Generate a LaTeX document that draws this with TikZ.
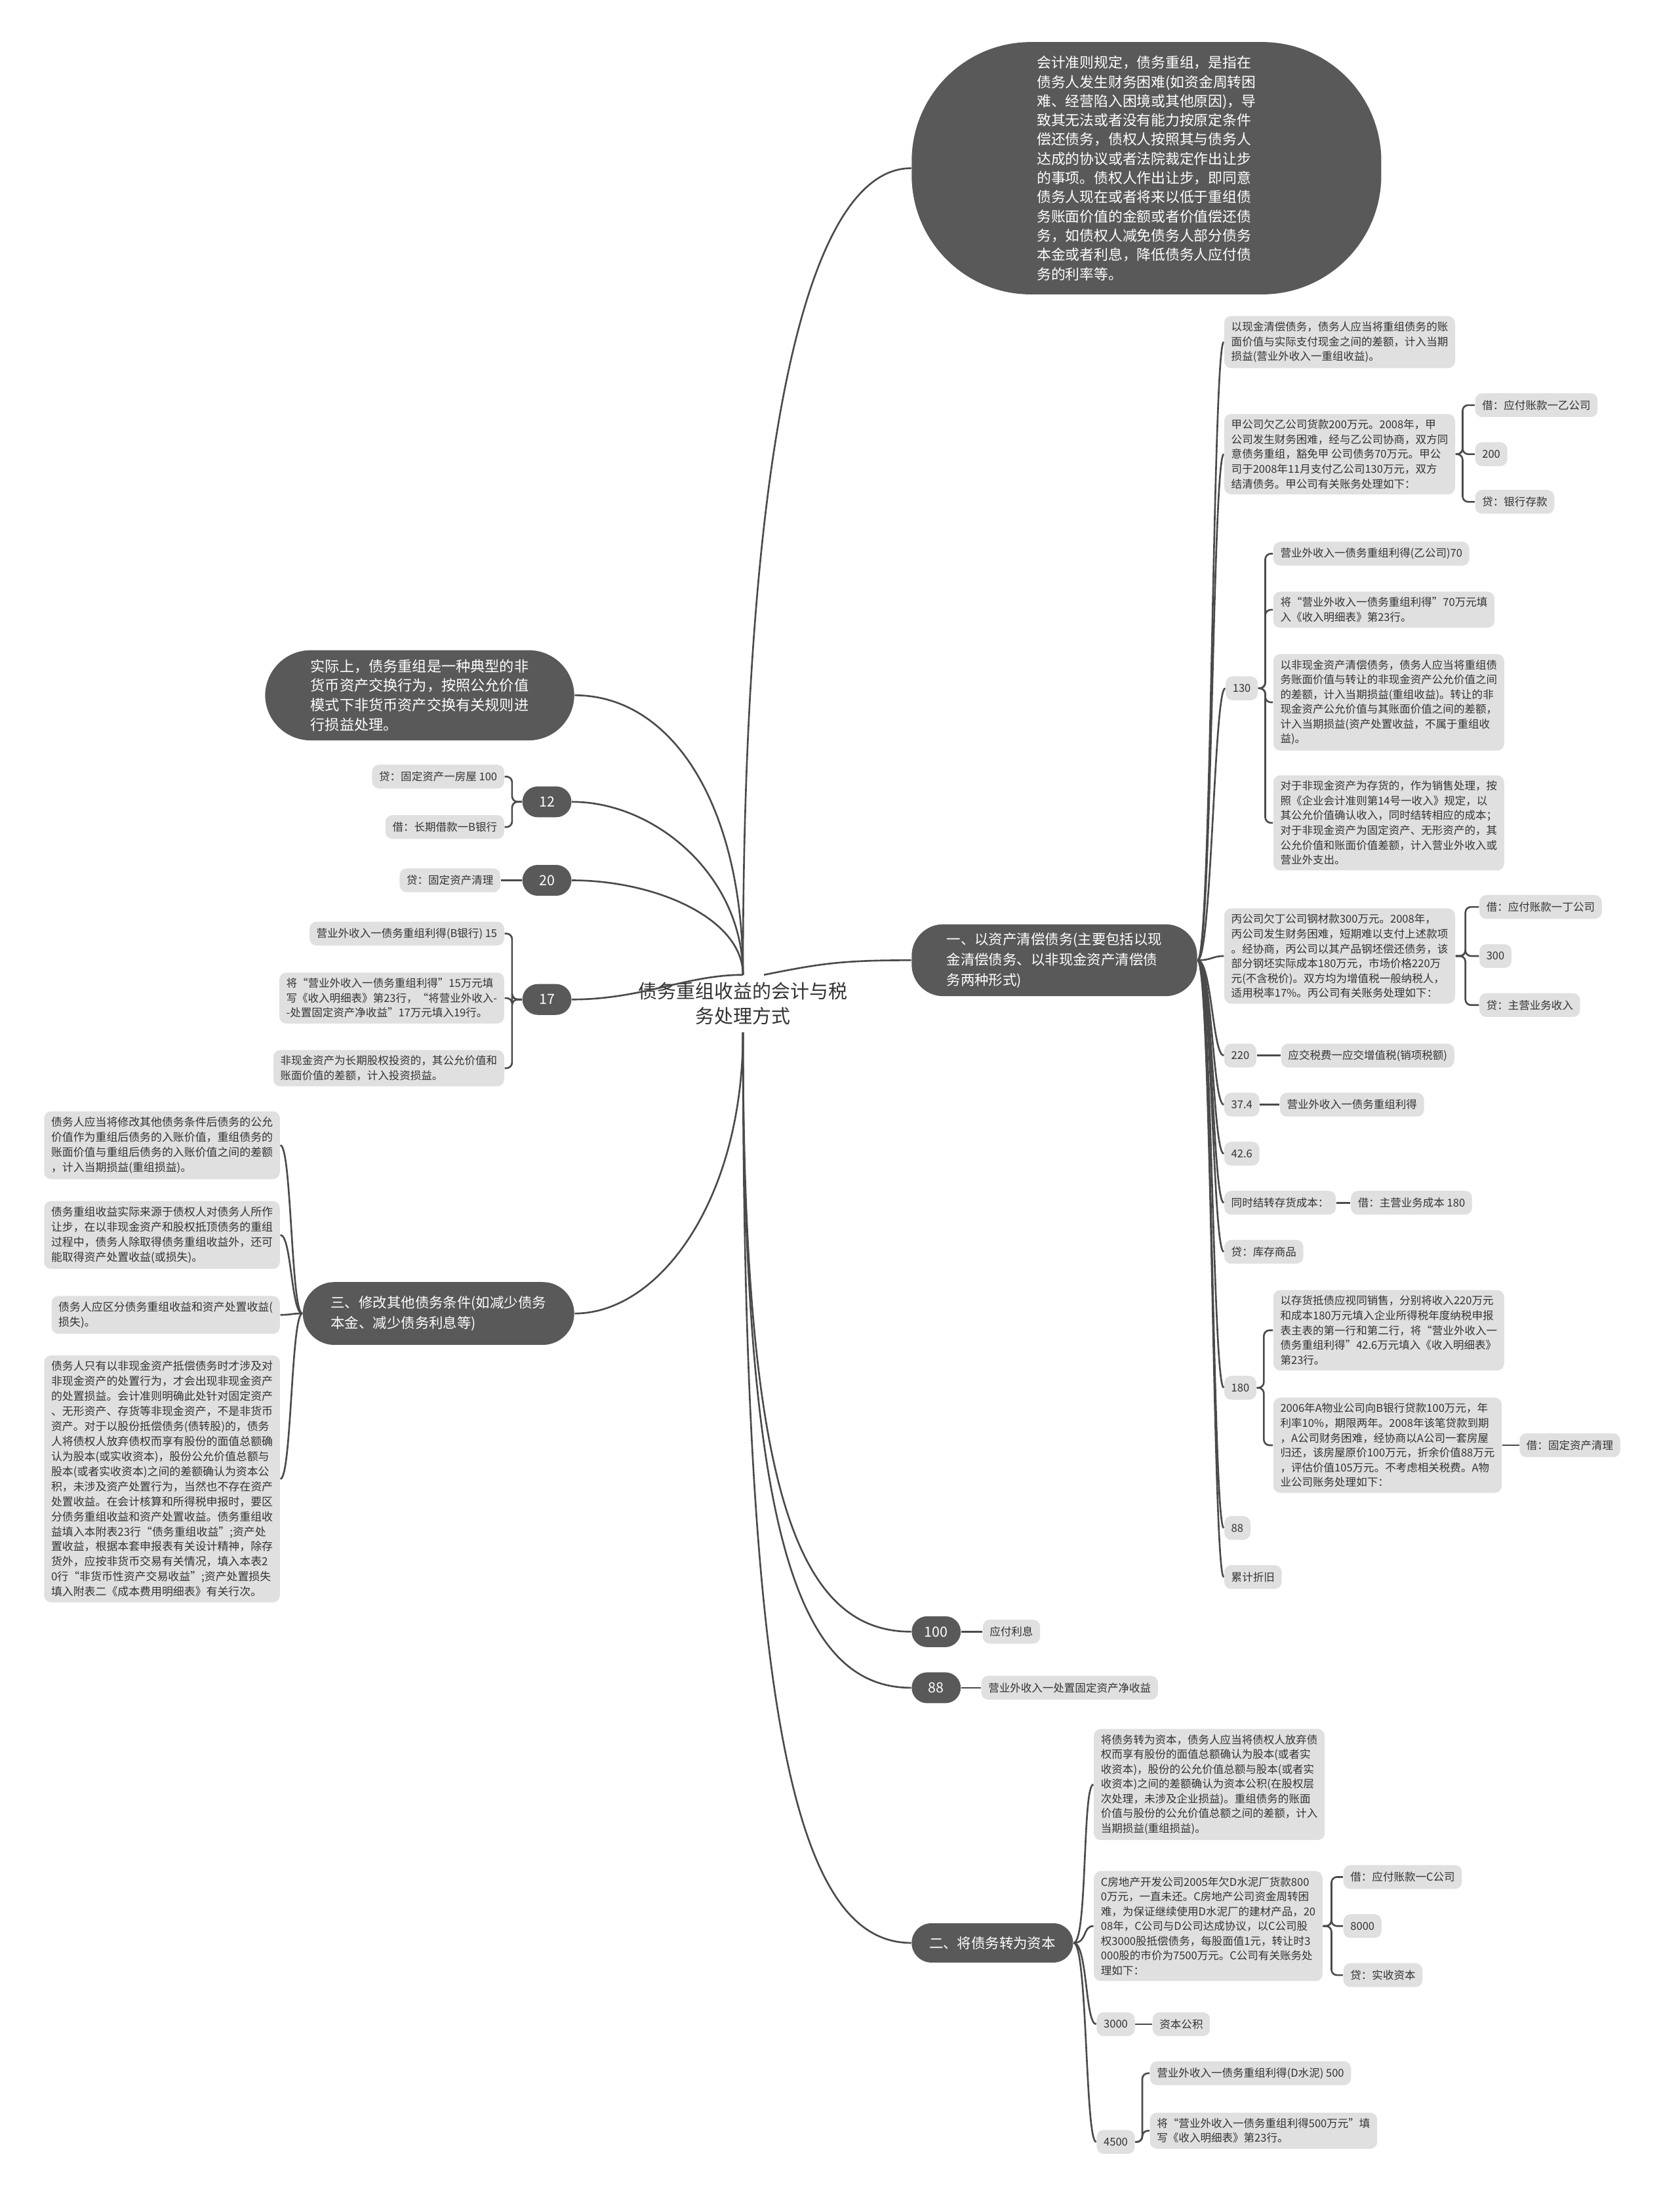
\documentclass[tikz,border=0pt]{standalone}
\usepackage{fontspec}
\setmainfont{Noto Sans CJK SC}
\usetikzlibrary{positioning}
\definecolor{pilldark}{HTML}{595959}
\definecolor{leafgray}{HTML}{E0E0E0}
\definecolor{linegray}{HTML}{4A4A4A}
\definecolor{textgray}{HTML}{333333}

\begin{document}
\begin{tikzpicture}[x=0.2mm, y=-0.2mm,
    link/.style={draw=linegray, line width=0.7pt},
    elbow/.style={link, rounded corners=0.8mm},
    leaf/.style={fill=leafgray, rounded corners=1mm, inner xsep=1mm, inner ysep=0.8mm, minimum height=3.4mm, align=left, text=textgray, font=\fontsize{4.4}{6}\selectfont},
    note/.style={leaf, font=\fontsize{4.5}{6.1}\selectfont},
    pill/.style={fill=pilldark, text=white, align=left, font=\fontsize{5.7}{8.2}\selectfont},
    numpill/.style={pill, minimum height=4.4mm, minimum width=7mm, rounded corners=2.2mm, inner xsep=1.5mm, align=center}
]
    \fill[white] (0,0) rectangle (1198,1568);
    \useasboundingbox (0,0) rectangle (1198,1568);

    \node[font=\fontsize{7.7}{10.2}\selectfont, align=center, text=textgray, inner sep=1mm] (root) at (530,716) {债务重组收益的会计与税\\务处理方式};

    \node[pill, anchor=west, minimum width=67mm, minimum height=36mm, rounded corners=17mm, font=\fontsize{5.8}{7.8}\selectfont] (rule) at (650,120) {会计准则规定，债务重组，是指在\\债务人发生财务困难(如资金周转困\\难、经营陷入困境或其他原因)，导\\致其无法或者没有能力按原定条件\\偿还债务，债权人按照其与债务人\\达成的协议或者法院裁定作出让步\\的事项。债权人作出让步，即同意\\债务人现在或者将来以低于重组债\\务账面价值的金额或者价值偿还债\\务，如债权人减免债务人部分债务\\本金或者利息，降低债务人应付债\\务的利率等。};

    \node[pill, anchor=west, inner xsep=5mm, inner ysep=1.2mm, rounded corners=4.5mm] (one) at (650,685) {一、以资产清偿债务(主要包括以现\\金清偿债务、以非现金资产清偿债\\务两种形式)};
    \node[leaf, anchor=west] (a1) at (873,244) {以现金清偿债务，债务人应当将重组债务的账\\面价值与实际支付现金之间的差额，计入当期\\损益(营业外收入一重组收益)。};
    \node[leaf, anchor=west] (a2) at (873,324) {甲公司欠乙公司货款200万元。2008年，甲\\公司发生财务困难，经与乙公司协商，双方同\\意债务重组，豁免甲 公司债务70万元。甲公\\司于2008年11月支付乙公司130万元，双方\\结清债务。甲公司有关账务处理如下：};
    \node[leaf, anchor=west] (a2d) at (1052,289) {借：应付账款一乙公司};
    \node[leaf, anchor=west] (a2m) at (1052,324) {200};
    \node[leaf, anchor=west] (a2c) at (1052,358) {贷：银行存款};
    \node[leaf, anchor=west] (a3) at (874,491) {130};
    \node[leaf, anchor=west] (a3a) at (908,395) {营业外收入一债务重组利得(乙公司)70};
    \node[leaf, anchor=west] (a3b) at (908,435) {将“营业外收入一债务重组利得”70万元填\\入《收入明细表》第23行。};
    \node[leaf, anchor=west] (a3c) at (908,501) {以非现金资产清偿债务，债务人应当将重组债\\务账面价值与转让的非现金资产公允价值之间\\的差额，计入当期损益(重组收益)。转让的非\\现金资产公允价值与其账面价值之间的差额，\\计入当期损益(资产处置收益，不属于重组收\\益)。};
    \node[leaf, anchor=west] (a3d) at (908,587) {对于非现金资产为存货的，作为销售处理，按\\照《企业会计准则第14号一收入》规定，以\\其公允价值确认收入，同时结转相应的成本；\\对于非现金资产为固定资产、无形资产的，其\\公允价值和账面价值差额，计入营业外收入或\\营业外支出。};
    \node[leaf, anchor=west] (a4) at (873,682) {丙公司欠丁公司钢材款300万元。2008年，\\丙公司发生财务困难，短期难以支付上述款项\\。经协商，丙公司以其产品钢坯偿还债务，该\\部分钢坯实际成本180万元，市场价格220万\\元(不含税价)。双方均为增值税一般纳税人，\\适用税率17\%。丙公司有关账务处理如下：};
    \node[leaf, anchor=west] (a4d) at (1055,647) {借：应付账款一丁公司};
    \node[leaf, anchor=west] (a4m) at (1055,682) {300};
    \node[leaf, anchor=west] (a4c) at (1055,717) {贷：主营业务收入};
    \node[leaf, anchor=west] (a5) at (873,753) {220};
    \node[leaf, right=3.4mm of a5] (a5r) {应交税费一应交增值税(销项税额)};
    \node[leaf, anchor=west] (a6) at (873,788) {37.4};
    \node[leaf, right=2.8mm of a6] (a6r) {营业外收入一债务重组利得};
    \node[leaf, anchor=west] (a7) at (873,823) {42.6};
    \node[leaf, anchor=west] (a8) at (873,858) {同时结转存货成本：};
    \node[leaf, right=2mm of a8] (a8r) {借：主营业务成本 180};
    \node[leaf, anchor=west] (a9) at (873,893) {贷：库存商品};
    \node[leaf, anchor=west] (a10) at (873,990) {180};
    \node[leaf, anchor=west] (a10a) at (908,949) {以存货抵债应视同销售，分别将收入220万元\\和成本180万元填入企业所得税年度纳税申报\\表主表的第一行和第二行，将“营业外收入一\\债务重组利得”42.6万元填入《收入明细表》\\第23行。};
    \node[leaf, anchor=west] (a10b) at (908,1031) {2006年A物业公司向B银行贷款100万元，年\\利率10\%，期限两年。2008年该笔贷款到期\\，A公司财务困难，经协商以A公司一套房屋\\归还，该房屋原价100万元，折余价值88万元\\，评估价值105万元。不考虑相关税费。A物\\业公司账务处理如下：};
    \node[leaf, right=2.4mm of a10b] (a10c) {借：固定资产清理};
    \node[leaf, anchor=west] (a11) at (873,1090) {88};
    \node[leaf, anchor=west] (a12) at (873,1125) {累计折旧};

    \node[numpill, anchor=west] (n100) at (650,1164) {100};
    \node[leaf, right=3mm of n100] (n100r) {应付利息};
    \node[numpill, anchor=west] (n88) at (650,1204) {88};
    \node[leaf, right=2.8mm of n88] (n88r) {营业外收入一处置固定资产净收益};

    \node[pill, anchor=west, inner xsep=2.5mm, minimum height=5.6mm, rounded corners=2.8mm] (two) at (650,1386) {二、将债务转为资本};
    \node[leaf, anchor=west] (b1) at (780,1273) {将债务转为资本，债务人应当将债权人放弃债\\权而享有股份的面值总额确认为股本(或者实\\收资本)，股份的公允价值总额与股本(或者实\\收资本)之间的差额确认为资本公积(在股权层\\次处理，未涉及企业损益)。重组债务的账面\\价值与股份的公允价值总额之间的差额，计入\\当期损益(重组损益)。};
    \node[leaf, anchor=west] (b2) at (780,1374) {C房地产开发公司2005年欠D水泥厂货款800\\0万元，一直未还。C房地产公司资金周转困\\难，为保证继续使用D水泥厂的建材产品，20\\08年，C公司与D公司达成协议，以C公司股\\权3000股抵偿债务，每股面值1元，转让时3\\000股的市价为7500万元。C公司有关账务处\\理如下：};
    \node[leaf, anchor=west] (b2d) at (958,1339) {借：应付账款一C公司};
    \node[leaf, anchor=west] (b2m) at (958,1374) {8000};
    \node[leaf, anchor=west] (b2c) at (958,1409) {贷：实收资本};
    \node[leaf, anchor=west] (b3) at (782,1444) {3000};
    \node[leaf, right=2.4mm of b3] (b3r) {资本公积};
    \node[leaf, anchor=west] (b4) at (782,1528) {4500};
    \node[leaf, anchor=west] (b4a) at (820,1479) {营业外收入一债务重组利得(D水泥) 500};
    \node[leaf, anchor=west] (b4b) at (820,1520) {将“营业外收入一债务重组利得500万元”填\\写《收入明细表》第23行。};

    \node[pill, anchor=east, inner xsep=6.5mm, inner ysep=1.3mm, rounded corners=6.5mm, font=\fontsize{5.9}{7.9}\selectfont] (essence) at (410,496) {实际上，债务重组是一种典型的非\\货币资产交换行为，按照公允价值\\模式下非货币资产交换有关规则进\\行损益处理。};
    \node[numpill, anchor=east] (n12) at (408,572) {12};
    \node[leaf, anchor=east] (n12a) at (360,554) {贷：固定资产一房屋 100};
    \node[leaf, anchor=east] (n12b) at (360,590) {借：长期借款一B银行};
    \node[numpill, anchor=east] (n20) at (408,628) {20};
    \node[leaf, left=3mm of n20] (n20a) {贷：固定资产清理};
    \node[numpill, anchor=east] (n17) at (408,713) {17};
    \node[leaf, anchor=east] (n17a) at (360,666) {营业外收入一债务重组利得(B银行) 15};
    \node[leaf, anchor=east] (n17b) at (360,712) {将“营业外收入一债务重组利得”15万元填\\写《收入明细表》第23行，“将营业外收入-\\-处置固定资产净收益”17万元填入19行。};
    \node[leaf, anchor=east] (n17c) at (360,762) {非现金资产为长期股权投资的，其公允价值和\\账面价值的差额，计入投资损益。};

    \node[pill, anchor=east, inner xsep=4mm, inner ysep=2mm, rounded corners=4.5mm] (three) at (410,937) {三、修改其他债务条件(如减少债务\\本金、减少债务利息等)};
    \node[note, anchor=east] (c1) at (200,817) {债务人应当将修改其他债务条件后债务的公允\\价值作为重组后债务的入账价值，重组债务的\\账面价值与重组后债务的入账价值之间的差额\\，计入当期损益(重组损益)。};
    \node[note, anchor=east] (c2) at (200,881) {债务重组收益实际来源于债权人对债务人所作\\让步，在以非现金资产和股权抵顶债务的重组\\过程中，债务人除取得债务重组收益外，还可\\能取得资产处置收益(或损失)。};
    \node[note, anchor=east] (c3) at (200,938) {债务人应区分债务重组收益和资产处置收益(\\损失)。};
    \node[note, anchor=east] (c4) at (200,1055) {债务人只有以非现金资产抵偿债务时才涉及对\\非现金资产的处置行为，才会出现非现金资产\\的处置损益。会计准则明确此处针对固定资产\\、无形资产、存货等非现金资产，不是非货币\\资产。对于以股份抵偿债务(债转股)的，债务\\人将债权人放弃债权而享有股份的面值总额确\\认为股本(或实收资本)，股份公允价值总额与\\股本(或者实收资本)之间的差额确认为资本公\\积，未涉及资产处置行为，当然也不存在资产\\处置收益。在会计核算和所得税申报时，要区\\分债务重组收益和资产处置收益。债务重组收\\益填入本附表23行“债务重组收益”;资产处\\置收益，根据本套申报表有关设计精神，除存\\货外，应按非货币交易有关情况，填入本表2\\0行“非货币性资产交易收益”;资产处置损失\\填入附表二《成本费用明细表》有关行次。};

    \draw[link] (root.north) .. controls +(0,-350) and +(-80,0) .. (rule.west);
    \draw[link] ([xshift=3mm]root.north) .. controls +(40,-8) and +(-50,0) .. (one.west);
    \draw[link] (root.north) .. controls +(0,-120) and +(70,0) .. (essence.east);
    \draw[link] (root.north) .. controls +(0,-70) and +(60,0) .. (n12.east);
    \draw[link] (root.north) .. controls +(0,-40) and +(60,0) .. (n20.east);
    \draw[link] (root.north) .. controls +(-40,0) and +(50,0) .. (n17.east);
    \draw[link] (root.south) .. controls +(0,120) and +(60,0) .. (three.east);
    \draw[link] (root.south) .. controls +(0,330) and +(-80,0) .. (n100.west);
    \draw[link] (root.south) .. controls +(0,360) and +(-80,0) .. (n88.west);
    \draw[link] (root.south) .. controls +(0,500) and +(-80,0) .. (two.west);

    \foreach \c in {a1,a2,a3,a4,a5,a6,a7,a8,a9,a10,a11,a12}
        \draw[link] (one.east) .. controls +(10,0) and +(-8,0) .. (\c.west);
    \foreach \c in {a2d,a2m,a2c}
        \draw[elbow] (a2.east) -- ++(5,0) |- (\c.west);
    \foreach \c in {a3a,a3b,a3c,a3d}
        \draw[elbow] (a3.east) -- ++(5,0) |- (\c.west);
    \foreach \c in {a4d,a4m,a4c}
        \draw[elbow] (a4.east) -- ++(7,0) |- (\c.west);
    \foreach \c in {a10a,a10b}
        \draw[elbow] (a10.east) -- ++(5,0) |- (\c.west);
    \draw[link] (a5) -- (a5r);
    \draw[link] (a6) -- (a6r);
    \draw[link] (a8) -- (a8r);
    \draw[link] (a10b) -- (a10c);
    \draw[link] (n100) -- (n100r);
    \draw[link] (n88) -- (n88r);

    \foreach \c in {b1,b2,b3,b4}
        \draw[link] (two.east) .. controls +(10,0) and +(-8,0) .. (\c.west);
    \foreach \c in {b2d,b2m,b2c}
        \draw[elbow] (b2.east) -- ++(6,0) |- (\c.west);
    \foreach \c in {b4a,b4b}
        \draw[elbow] (b4.east) -- ++(5,0) |- (\c.west);
    \draw[link] (b3) -- (b3r);

    \foreach \c in {n12a,n12b}
        \draw[elbow] (n12.west) -- ++(-7,0) |- (\c.east);
    \draw[link] (n20) -- (n20a);
    \foreach \c in {n17a,n17b,n17c}
        \draw[elbow] (n17.west) -- ++(-7,0) |- (\c.east);
    \foreach \c in {c1,c2,c3,c4}
        \draw[link] (three.west) .. controls +(-8,0) and +(8,0) .. (\c.east);
\end{tikzpicture}
\end{document}
